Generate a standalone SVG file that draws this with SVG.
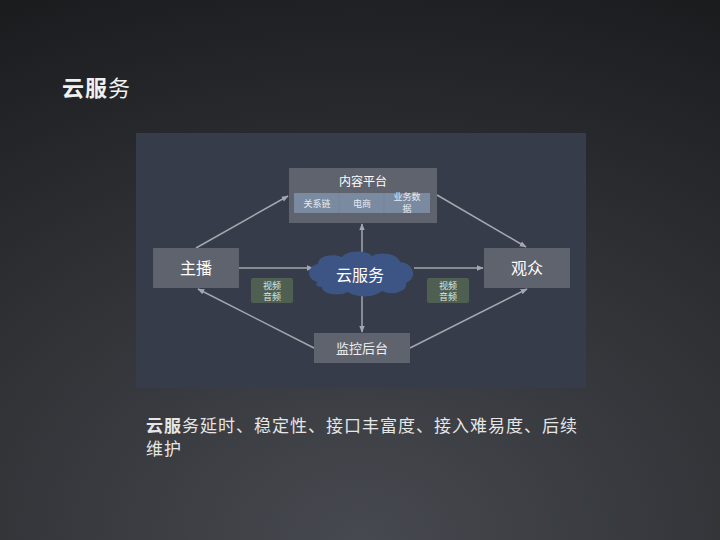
<svg xmlns="http://www.w3.org/2000/svg" width="720" height="540" viewBox="0 0 720 540">
<defs>
<radialGradient id="bg" cx="0.5" cy="1" r="1.1" fx="0.5" fy="1">
<stop offset="0" stop-color="#46494f"/>
<stop offset="0.55" stop-color="#2f3135"/>
<stop offset="1" stop-color="#1b1c1e"/>
</radialGradient>
<marker id="ah" viewBox="0 0 10 10" refX="9" refY="5" markerWidth="7" markerHeight="7" orient="auto" markerUnits="userSpaceOnUse">
<path d="M0,1 L10,5 L0,9 z" fill="#a3a7ae"/>
</marker>
<style>
text{font-family:"Noto Sans CJK SC","Liberation Sans",sans-serif;}
.node{fill:#5f636d;}
.lbl{fill:#ffffff;font-size:16px;text-anchor:middle;}
.small{fill:#e8ecf2;font-size:9px;text-anchor:middle;}
.green{fill:#4f5f52;}
.gt{fill:#dfe6df;font-size:9px;text-anchor:middle;}
.conn{stroke:#a3a7ae;stroke-width:1.5;fill:none;marker-end:url(#ah);}
.body{font-size:17px;letter-spacing:1px;fill:#e6e6e6;}
</style>
</defs>
<rect width="720" height="540" fill="url(#bg)"/>
<text x="62" y="96" font-size="22" letter-spacing="1" fill="#f0f0f0"><tspan font-weight="bold">云服</tspan>务</text>
<rect x="136" y="133" width="450" height="255" fill="#363c49"/>
<g id="connectors">
<line class="conn" x1="196" y1="248" x2="288" y2="196"/>
<line class="conn" x1="437" y1="195" x2="526" y2="247"/>
<line class="conn" x1="239" y1="268" x2="313" y2="268"/>
<line class="conn" x1="414" y1="268" x2="483" y2="268"/>
<line class="conn" x1="362" y1="256" x2="362" y2="224"/>
<line class="conn" x1="362" y1="294" x2="362" y2="332"/>
<line class="conn" x1="314" y1="348" x2="198" y2="289"/>
<line class="conn" x1="410" y1="348" x2="527" y2="289"/>
</g>
<g id="content-platform">
<rect class="node" x="289" y="168" width="148" height="55"/>
<text x="363" y="186" fill="#ffffff" font-size="12" text-anchor="middle">内容平台</text>
<rect x="294" y="193" width="136" height="20" fill="#7a8aa0"/>
<line x1="339" y1="193" x2="339" y2="213" stroke="#74839a" stroke-width="1"/>
<line x1="384" y1="193" x2="384" y2="213" stroke="#74839a" stroke-width="1"/>
<text class="small" x="317" y="207">关系链</text>
<text class="small" x="362" y="207">电商</text>
<text class="small" x="407" y="200" font-size="7">业务数</text>
<text class="small" x="407" y="211.5" font-size="7">据</text>
</g>
<g id="anchor">
<rect class="node" x="153" y="248" width="86" height="40"/>
<text class="lbl" x="196" y="274">主播</text>
</g>
<g id="audience">
<rect class="node" x="484" y="248" width="86" height="40"/>
<text class="lbl" x="527" y="274">观众</text>
</g>
<g id="cloud">
<path d="M318,282 C306,280 306,266 318,264 C318,256 332,253 342,257 C348,250 366,250 372,256 C382,251 398,254 400,262 C414,263 418,278 406,283 C408,292 392,296 382,291 C374,298 356,298 348,292 C338,297 322,294 322,287 C316,287 314,284 318,282 Z" fill="#3d5585"/>
<text class="lbl" x="360" y="281">云服务</text>
</g>
<g id="monitor">
<rect class="node" x="314" y="333" width="96" height="30"/>
<text x="362" y="353" fill="#eeeeee" font-size="13" text-anchor="middle">监控后台</text>
</g>
<g id="av-left">
<rect class="green" x="251" y="278" width="42" height="25" rx="2"/>
<text class="gt" x="272" y="288.5">视频</text>
<text class="gt" x="272" y="300">音频</text>
</g>
<g id="av-right">
<rect class="green" x="427" y="278" width="42" height="25" rx="2"/>
<text class="gt" x="448" y="288.5">视频</text>
<text class="gt" x="448" y="300">音频</text>
</g>
<text class="body" x="146" y="432"><tspan font-weight="bold">云服</tspan>务延时、稳定性、接口丰富度、接入难易度、后续</text>
<text class="body" x="146" y="455">维护</text>
</svg>
